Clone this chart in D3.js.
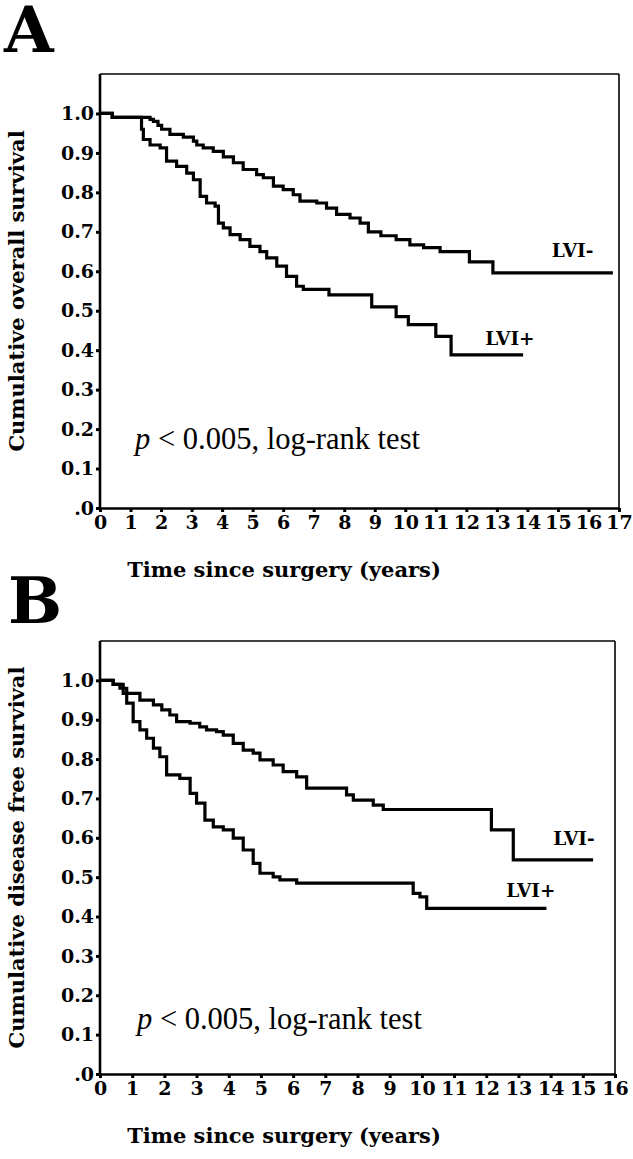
<!DOCTYPE html>
<html><head><meta charset="utf-8">
<script src="https://cdn.jsdelivr.net/npm/d3@7"></script>
<style>body{margin:0;background:#fff} svg{display:block}</style>
</head><body>
<svg id="c" width="633" height="1159"></svg>
<script>
// ---------- data ----------
const yTickValues = [0, 0.1, 0.2, 0.3, 0.4, 0.5, 0.6, 0.7, 0.8, 0.9, 1.0];
const xTicksA = d3.range(0, 18);
const xTicksB = d3.range(0, 17);

// Panel A: overall survival
const timeA_neg = [0, 0.4, 1.64, 1.75, 1.9, 2.02, 2.29, 2.73, 3.06, 3.17, 3.38, 3.71, 4.04, 4.37, 4.69, 5.13, 5.35, 5.68, 6.0, 6.33, 6.55, 7.1, 7.42, 7.75, 8.19, 8.52, 8.79, 9.2, 9.7, 10.15, 10.6, 11.14, 12.1, 12.87, 16.8];
const survA_neg = [1.0, 0.99, 0.985, 0.98, 0.97, 0.96, 0.947, 0.94, 0.93, 0.92, 0.913, 0.904, 0.89, 0.875, 0.858, 0.845, 0.837, 0.816, 0.807, 0.794, 0.778, 0.773, 0.76, 0.744, 0.735, 0.722, 0.70, 0.69, 0.68, 0.667, 0.66, 0.65, 0.624, 0.596, 0.596];
const timeA_pos = [0, 0.4, 1.36, 1.42, 1.64, 1.97, 2.18, 2.51, 2.84, 3.06, 3.28, 3.49, 3.77, 3.88, 4.04, 4.26, 4.59, 4.91, 5.24, 5.46, 5.79, 6.11, 6.44, 6.66, 7.5, 8.9, 9.7, 10.1, 11.0, 11.5, 13.86];
const survA_pos = [1.0, 0.99, 0.96, 0.934, 0.92, 0.913, 0.879, 0.866, 0.849, 0.832, 0.79, 0.773, 0.765, 0.722, 0.71, 0.693, 0.68, 0.663, 0.65, 0.634, 0.613, 0.587, 0.562, 0.554, 0.54, 0.51, 0.485, 0.465, 0.435, 0.388, 0.388];

// Panel B: disease free survival
const timeB_neg = [0, 0.41, 0.62, 0.83, 1.24, 1.66, 1.92, 2.17, 2.38, 2.8, 3.1, 3.31, 3.62, 3.83, 4.14, 4.45, 4.76, 4.97, 5.38, 5.69, 6.11, 6.42, 7.66, 7.87, 8.49, 8.8, 12.16, 12.84, 15.32];
const survB_neg = [1.0, 0.99, 0.98, 0.967, 0.95, 0.9375, 0.925, 0.912, 0.895, 0.891, 0.882, 0.874, 0.87, 0.861, 0.84, 0.823, 0.815, 0.798, 0.785, 0.768, 0.755, 0.726, 0.709, 0.696, 0.683, 0.672, 0.62, 0.544, 0.544];
const timeB_pos = [0, 0.41, 0.72, 0.83, 1.03, 1.24, 1.45, 1.66, 1.86, 2.07, 2.48, 2.8, 3.0, 3.26, 3.52, 3.83, 4.14, 4.45, 4.76, 4.97, 5.38, 5.59, 6.11, 9.73, 9.94, 10.15, 13.87];
const survB_pos = [1.0, 0.99, 0.967, 0.942, 0.895, 0.874, 0.853, 0.828, 0.806, 0.76, 0.751, 0.713, 0.688, 0.645, 0.628, 0.62, 0.599, 0.569, 0.535, 0.51, 0.501, 0.493, 0.485, 0.459, 0.45, 0.421, 0.421];

const seriesLabels = ["LVI-", "LVI+"];
const pText = ", log-rank test";
// ---------- drawing ----------
const svg = d3.select("#c");
const BOLD = "'DejaVu Serif', serif";

function panel(o) {
  const x = d3.scaleLinear().domain([0, o.xMax]).range([o.left, o.right]);
  const y = d3.scaleLinear().domain([0, 1.1]).range([o.bottom, o.top]);
  const g = svg.append("g");

  // panel letter
  g.append("text").attr("x", o.letterX).attr("y", o.letterY)
    .attr("font-family", BOLD).attr("font-weight", "bold").attr("font-size", 64)
    .text(o.letter);

  // frame top/right
  g.append("line").attr("x1", o.left).attr("x2", o.right).attr("y1", y(1.1)).attr("y2", y(1.1))
    .attr("stroke", "#000").attr("stroke-width", 1.6);
  g.append("line").attr("x1", o.right).attr("x2", o.right).attr("y1", y(1.1)).attr("y2", o.bottom)
    .attr("stroke", "#000").attr("stroke-width", 1.6);

  // axes
  const ya = g.append("g").attr("transform", `translate(${o.left},0)`)
    .call(d3.axisLeft(y).tickValues(yTickValues).tickSize(4).tickSizeOuter(0).tickPadding(2)
      .tickFormat(d => d === 0 ? ".0" : d3.format(".1f")(d)));
  const xa = g.append("g").attr("transform", `translate(0,${o.bottom})`)
    .call(d3.axisBottom(x).tickValues(o.xTicks).tickSize(4).tickSizeOuter(0).tickPadding(4));
  [ya, xa].forEach(a => {
    a.select(".domain").attr("stroke-width", 2.6);
    a.selectAll(".tick line").attr("stroke-width", 3);
    a.selectAll("text").attr("font-family", BOLD).attr("font-weight", "bold").attr("fill", "#000");
  });
  ya.selectAll("text").attr("font-size", 19);
  xa.selectAll("text").attr("font-size", 19);
  ya.select(".domain").attr("d", `M0,${o.bottom}V${y(1.1)}`);

  // curves
  const line = d3.line().x(d => x(d[0])).y(d => y(d[1])).curve(d3.curveStepAfter);
  o.series.forEach(s => {
    g.append("path").datum(d3.zip(s.t, s.s)).attr("d", line)
      .attr("fill", "none").attr("stroke", "#000").attr("stroke-width", 3.2)
      .attr("stroke-linejoin", "miter").attr("stroke-linecap", "butt");
  });
  // series labels
  o.labels.forEach(l => {
    g.append("text").attr("x", x(l.t)).attr("y", y(l.v))
      .attr("font-family", BOLD).attr("font-weight", "bold").attr("font-size", 18.5)
      .text(l.text);
  });

  // p-value text
  const pt = g.append("text").attr("x", x(o.pPos[0])).attr("y", y(o.pPos[1]))
    .attr("font-family", "'Liberation Serif', serif").attr("font-size", 30.5);
  pt.append("tspan").attr("font-style", "italic").text("p");
  pt.append("tspan").text(" < 0.005" + pText);

  // axis titles
  g.append("text").attr("x", o.xTitleX).attr("y", o.bottom + 69)
    .attr("font-family", BOLD).attr("font-weight", "bold").attr("font-size", 21)
    .attr("text-anchor", "middle")
    .text("Time since surgery (years)");
  g.append("text")
    .attr("transform", `translate(24,${y(0.55)}) rotate(-90)`)
    .attr("font-family", BOLD).attr("font-weight", "bold").attr("font-size", 21)
    .attr("text-anchor", "middle")
    .text(o.yTitle);
}

panel({
  letter: "A", letterX: 4, letterY: 52,
  left: 100, right: 619, top: 74, bottom: 508, xMax: 17, xTicks: xTicksA,
  xTitleX: 284,
  series: [{t: timeA_neg, s: survA_neg}, {t: timeA_pos, s: survA_pos}],
  labels: [{text: seriesLabels[0], t: 14.8, v: 0.635}, {text: seriesLabels[1], t: 12.62, v: 0.414}],
  pPos: [1.15, 0.15],
  yTitle: "Cumulative overall survival"
});
panel({
  letter: "B", letterX: 8, letterY: 623,
  left: 100, right: 615, top: 641, bottom: 1074, xMax: 16, xTicks: xTicksB,
  xTitleX: 284,
  series: [{t: timeB_neg, s: survB_neg}, {t: timeB_pos, s: survB_pos}],
  labels: [{text: seriesLabels[0], t: 14.08, v: 0.582}, {text: seriesLabels[1], t: 12.62, v: 0.45}],
  pPos: [1.15, 0.115],
  yTitle: "Cumulative disease free survival"
});
</script>
</body></html>
